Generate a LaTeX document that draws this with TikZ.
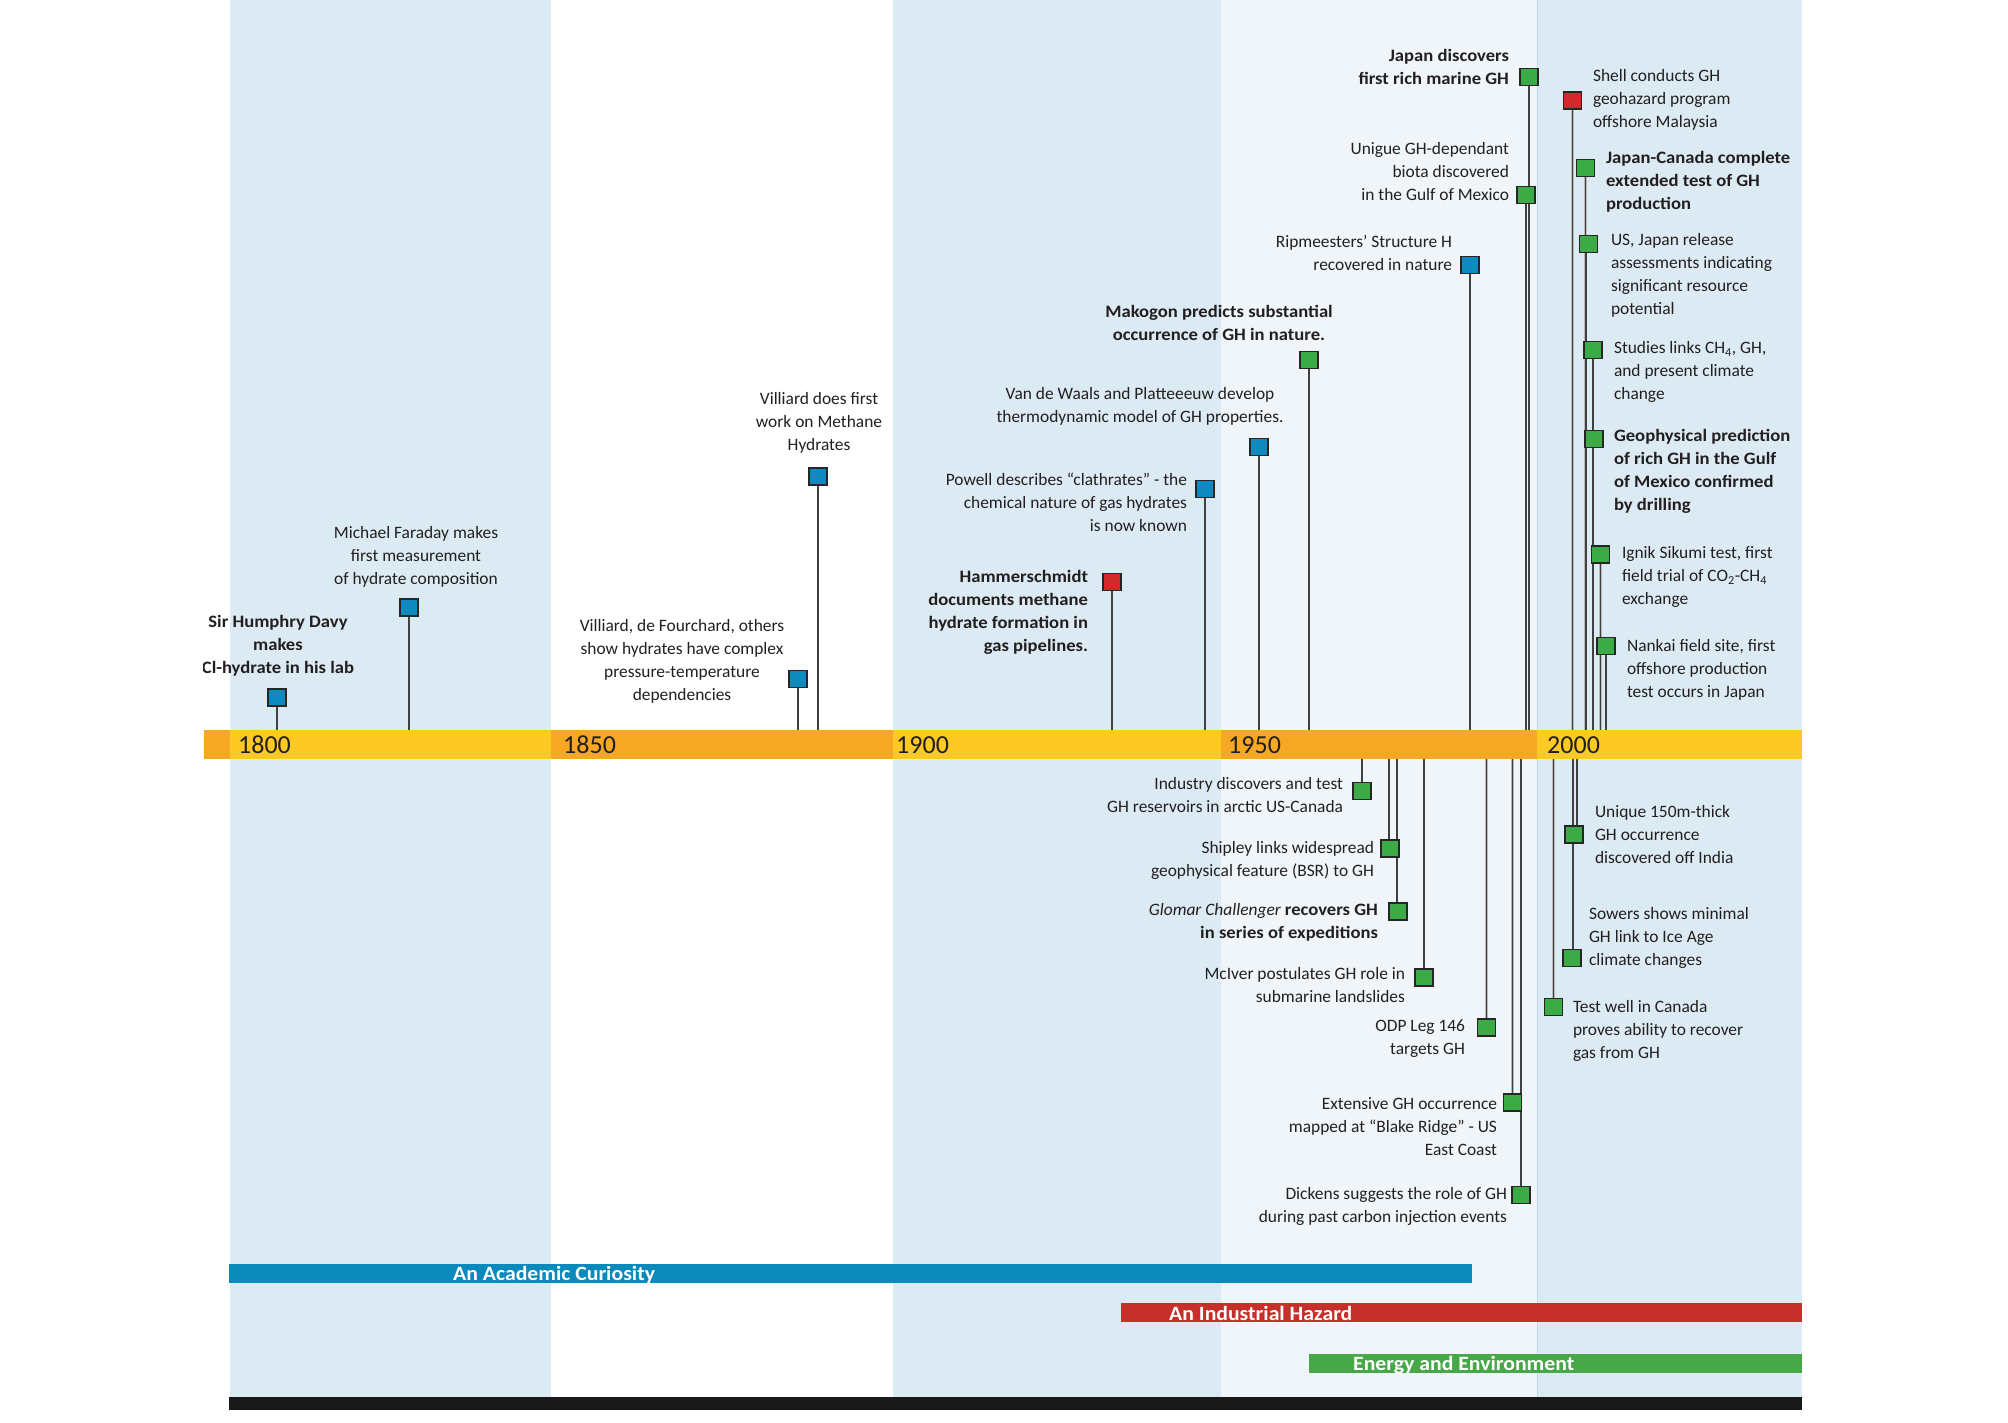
\documentclass[tikz,border=0pt]{standalone}
\usepackage{fontspec}
\setmainfont{Carlito}[BoldFeatures={FakeStretch=1.07}]
\definecolor{bandblue}{HTML}{DBEAF3}
\definecolor{bandpale}{HTML}{EFF5F9}
\definecolor{bandedge}{HTML}{BFD9EA}
\definecolor{baryellow}{HTML}{FDCA24}
\definecolor{barorange}{HTML}{F6A824}
\definecolor{sqblue}{HTML}{0F8AC0}
\definecolor{sqgreen}{HTML}{3DAA48}
\definecolor{sqred}{HTML}{D02A2C}
\definecolor{txt}{HTML}{231F20}
\definecolor{erablue}{HTML}{098ABB}
\definecolor{erared}{HTML}{C62F2A}
\definecolor{eragreen}{HTML}{46A846}
\pgfdeclarelayer{bg}\pgfdeclarelayer{stems}\pgfsetlayers{bg,stems,main}
\begin{document}
\begin{tikzpicture}[x=1pt,y=-1pt,
  ev/.style={inner sep=0pt, outer sep=0pt, text=txt, font=\fontsize{17.4}{23}\selectfont},
  evc/.style={ev, align=center},
  evr/.style={ev, align=right, anchor=east},
  evl/.style={ev, align=left, anchor=west},
  evbold/.style={font=\bfseries\fontsize{17.4}{23}\selectfont},
  sq/.style={draw=black!85, line width=1.1pt, minimum width=18pt, minimum height=17pt, inner sep=0pt, outer sep=0pt},
  bsq/.style={sq, fill=sqblue},
  gsq/.style={sq, fill=sqgreen},
  rsq/.style={sq, fill=sqred},
  stemline/.style={line width=1.2pt, draw=black!75, preaction={draw=gray!55, line width=2.6pt}},
  yearlabel/.style={font=\fontsize{26}{26}\selectfont, text=txt, anchor=west, inner sep=0pt},
  eralabel/.style={font=\bfseries\fontsize{20.3}{20.3}\selectfont, text=white, anchor=base west, inner sep=0pt}
]
\useasboundingbox (0,0) rectangle (2008,1423);
\begin{pgfonlayer}{bg}
\fill[white] (0,0) rectangle (2008,1423);
% period bands
\fill[bandblue] (230,0) rectangle (551,1397);
\fill[bandblue] (893,0) rectangle (1221,1397);
\fill[bandpale] (1221,0) rectangle (1537,1397);
\fill[bandblue] (1537,0) rectangle (1802,1397);
\draw[bandedge, line width=0.8pt] (1537,0) -- (1537,1397);
% time axis
\fill[barorange] (204,730) rectangle (230,759);
\fill[baryellow] (230,730) rectangle (551,759);
\fill[barorange] (551,730) rectangle (893,759);
\fill[baryellow] (893,730) rectangle (1221,759);
\fill[barorange] (1221,730) rectangle (1537,759);
\fill[baryellow] (1537,730) rectangle (1802,759);
% era bars
\fill[erablue] (229,1264) rectangle (1472,1283);
\fill[erared] (1121,1303) rectangle (1802,1322);
\fill[eragreen] (1309,1354) rectangle (1802,1373);
\fill[black!90] (229,1397) rectangle (1802,1410);
\end{pgfonlayer}
\coordinate (bartop) at (0,730);
\coordinate (barbot) at (0,759);

% years
\node[yearlabel] (y1800) at (238,745) {1800};
\node[yearlabel] (y1850) at (563,745) {1850};
\node[yearlabel] (y1900) at (896,745) {1900};
\node[yearlabel] (y1950) at (1228,745) {1950};
\node[yearlabel] (y2000) at (1547,745) {2000};

% era labels
\node[eralabel] (eraA) at (453,1280) {An Academic Curiosity};
\node[eralabel] (eraI) at (1169,1320) {An Industrial Hazard};
\node[eralabel] (eraE) at (1353,1370) {Energy and Environment};

% ---------- events above the axis ----------
\node[bsq] (davy) at (277,697.5) {};
\begin{scope}
\clip (203,600) rectangle (420,690);
\node[evc, evbold] (davyT) at (278,646) {Sir Humphry Davy\\makes\\Cl-hydrate in his lab};
\end{scope}

\node[bsq] (faraday) at (409,607.5) {};
\node[evc] (faradayT) at (416,557) {Michael Faraday makes\\first measurement\\of hydrate composition};

\node[bsq] (vdf) at (798,679) {};
\node[evc] (vdfT) at (682,661) {Villiard, de Fourchard, others\\show hydrates have complex\\pressure-temperature\\dependencies};

\node[bsq] (vil) at (818,476.5) {};
\node[evc] (vilT) at (819,423) {Villiard does first\\work on Methane\\Hydrates};

\node[rsq] (ham) at (1112,582) {};
\node[evr, evbold] (hamT) at (1088,612) {Hammerschmidt\\documents methane\\hydrate formation in\\gas pipelines.};

\node[bsq] (pow) at (1205,489) {};
\node[evr] (powT) at (1187,502) {Powell describes “clathrates” - the\\chemical nature of gas hydrates\\is now known};

\node[bsq] (vdw) at (1259,447) {};
\node[evc] (vdwT) at (1140,406) {Van de Waals and Platteeeuw develop\\thermodynamic model of GH properties.};

\node[gsq] (mak) at (1309,360) {};
\node[evc, evbold] (makT) at (1219,323) {Makogon predicts substantial\\occurrence of GH in nature.};

\node[bsq] (rip) at (1470,265) {};
\node[evr] (ripT) at (1452,253) {Ripmeesters’ Structure H\\recovered in nature};

\node[gsq] (ugd) at (1526,195) {};
\node[evr] (ugdT) at (1509,172) {Unigue GH-dependant\\biota discovered\\in the Gulf of Mexico};

\node[gsq] (jd) at (1529,77) {};
\node[evr, evbold] (jdT) at (1509,67) {Japan discovers\\first rich marine GH};

\node[rsq] (shell) at (1572.5,100.5) {};
\node[evl] (shellT) at (1593,100) {Shell conducts GH\\geohazard program\\offshore Malaysia};

\node[gsq] (jc) at (1585.5,168) {};
\node[evl, evbold] (jcT) at (1606,182) {Japan-Canada complete\\extended test of GH\\production};

\node[gsq] (usj) at (1588.5,244) {};
\node[evl] (usjT) at (1611,275) {US, Japan release\\assessments indicating\\significant resource\\potential};

\node[gsq] (stu) at (1593,350) {};
\node[evl] (stuT) at (1614,372) {Studies links CH\textsubscript{4}, GH,\\and present climate\\change};

\node[gsq] (geo) at (1594,439) {};
\node[evl, evbold] (geoT) at (1614,471) {Geophysical prediction\\of rich GH in the Gulf\\of Mexico confirmed\\by drilling};

\node[gsq] (ign) at (1600.5,554.5) {};
\node[evl] (ignT) at (1622,577) {Ignik Sikumi test, first\\field trial of CO\textsubscript{2}-CH\textsubscript{4}\\exchange};

\node[gsq] (nan) at (1606,646) {};
\node[evl] (nanT) at (1627,670) {Nankai field site, first\\offshore production\\test occurs in Japan};

% ---------- events below the axis ----------
\node[gsq] (ind) at (1362,791) {};
\node[evr] (indT) at (1343,795) {Industry discovers and test\\GH reservoirs in arctic US-Canada};

\node[gsq] (ship) at (1390,848.5) {};
\node[evr] (shipT) at (1374,860) {Shipley links widespread\\geophysical feature (BSR) to GH};

\node[gsq] (glo) at (1398,911.5) {};
\node[evr] (gloT) at (1378,922) {\textit{Glomar Challenger} \textbf{recovers GH}\\\textbf{in series of expeditions}};

\node[gsq] (mci) at (1424,977.5) {};
\node[evr] (mciT) at (1405,985) {McIver postulates GH role in\\submarine landslides};

\node[gsq] (odp) at (1486.5,1027.5) {};
\node[evr] (odpT) at (1465,1039) {ODP Leg 146\\targets GH};

\node[gsq] (ext) at (1512.5,1102.5) {};
\node[evr] (extT) at (1497,1127) {Extensive GH occurrence\\mapped at “Blake Ridge” - US\\East Coast};

\node[gsq] (dic) at (1521,1195) {};
\node[evr] (dicT) at (1507,1206) {Dickens suggests the role of GH\\during past carbon injection events};

\node[gsq] (u150) at (1574,834.5) {};
\node[evl] (u150T) at (1595,835) {Unique 150m-thick\\GH occurrence\\discovered off India};

\node[gsq] (sow) at (1572,958) {};
\node[evl] (sowT) at (1589,938) {Sowers shows minimal\\GH link to Ice Age\\climate changes};

\node[gsq] (tw) at (1553.5,1007) {};
\node[evl] (twT) at (1573,1031) {Test well in Canada\\proves ability to recover\\gas from GH};

% ---------- stems ----------
\begin{pgfonlayer}{stems}
\foreach \n in {davy,faraday,vdf,vil,ham,pow,vdw,mak,rip,ugd,jd,shell,jc,stu,ign,nan}
  \draw[stemline] (\n.south) -- (\n.south |- bartop);
\draw[stemline] ([xshift=-2.5pt]usj.south) -- ([xshift=-2.5pt]usj.south |- bartop);
\draw[stemline] ([xshift=-1pt]geo.south) -- ([xshift=-1pt]geo.south |- bartop);
\foreach \n in {ind,mci,odp,ext,dic,tw}
  \draw[stemline] (\n.north |- barbot) -- (\n.north);
\draw[stemline] ([xshift=-1pt]ship.north |- barbot) -- ([xshift=-1pt]ship.north);
\draw[stemline] ([xshift=-1pt]glo.north |- barbot) -- ([xshift=-1pt]glo.north);
\draw[stemline] ([xshift=3pt]u150.north |- barbot) -- ([xshift=3pt]u150.north);
\draw[stemline] ([xshift=1pt]sow.north |- barbot) -- ([xshift=1pt]sow.north);
\end{pgfonlayer}
\end{tikzpicture}
\end{document}
